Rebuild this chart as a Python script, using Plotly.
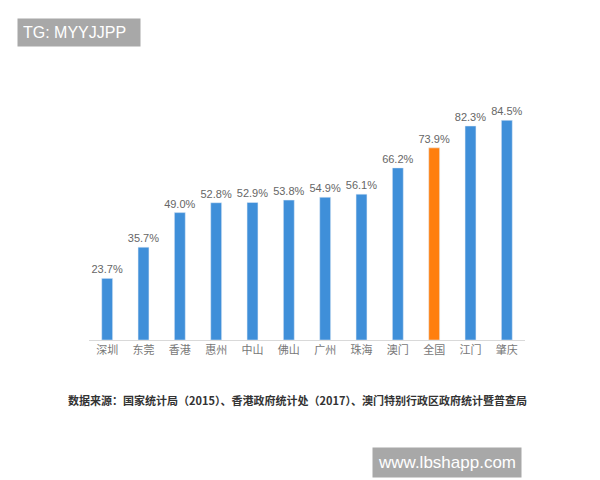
import plotly.graph_objects as go

cities = ["深圳", "东莞", "香港", "惠州", "中山", "佛山", "广州", "珠海", "澳门", "全国", "江门", "肇庆"]
values = [23.7, 35.7, 49.0, 52.8, 52.9, 53.8, 54.9, 56.1, 66.2, 73.9, 82.3, 84.5]
labels = [f"{v:.1f}%" for v in values]
colors = ["#ff7f0e" if c == "全国" else "#3f8fd9" for c in cities]

fig = go.Figure(go.Bar(
    x=cities, y=values, text=labels, textposition="outside", constraintext="none",
    marker_color=colors, textfont=dict(size=11, color="#666", family="Liberation Sans Narrow, Liberation Sans"),
    cliponaxis=False,
))
fig.update_layout(
    width=600, height=480, margin=dict(l=81, r=83, t=72, b=148),
    paper_bgcolor="white", plot_bgcolor="white", bargap=0.7, showlegend=False,
    font=dict(family="Noto Sans CJK SC"),
    xaxis=dict(showline=True, linecolor="#d9d9d9", tickfont=dict(size=11, color="#777"), ticks=""),
    yaxis=dict(range=[0, 100], visible=False),
    annotations=[
        dict(text="TG: MYYJJPP", xref="paper", yref="paper", x=-0.165, y=1.181, xanchor="left", yanchor="middle",
             showarrow=False, bgcolor="#a8a8a8", font=dict(size=16, color="white", family="Liberation Sans"),
             borderpad=5, width=112, align="left"),
        dict(text="<b>数据来源：国家统计局（2015）、香港政府统计处（2017）、澳门特别行政区政府统计暨普查局</b>",
             xref="paper", yref="paper", x=0.479, y=-0.231, xanchor="center", yanchor="middle", showarrow=False,
             font=dict(size=11, color="#333", family="Noto Sans CJK SC")),
        dict(text="www.lbshapp.com", xref="paper", yref="paper", x=0.993, y=-0.473, xanchor="right", yanchor="middle",
             showarrow=False, bgcolor="#a8a8a8", font=dict(size=17, color="white", family="Liberation Sans"),
             borderpad=5),
    ],
)
fig.write_html("out.html")
